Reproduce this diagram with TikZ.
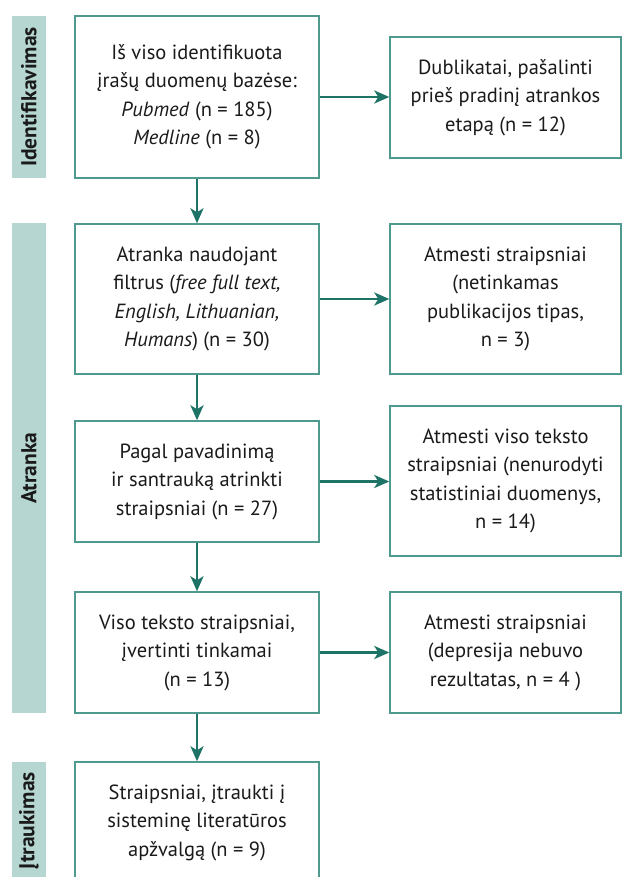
\documentclass[tikz,border=0pt]{standalone}
\usepackage{fontspec}
\setmainfont{PT Sans}
\usetikzlibrary{arrows.meta}
\definecolor{boxline}{HTML}{4E9A8E}
\definecolor{arrowc}{HTML}{1D7466}
\definecolor{barfill}{HTML}{B6D7D1}
\definecolor{txt}{HTML}{1A1A1A}
\tikzset{
  leftbox/.style={draw=boxline, line width=1.4pt, minimum width=244pt, align=center, inner sep=0pt,
    font=\fontsize{20.5}{28.5}\selectfont, text=txt},
  rightbox/.style={draw=boxline, line width=1.4pt, minimum width=231pt, align=center, inner sep=0pt,
    font=\fontsize{20.5}{28.5}\selectfont, text=txt},
  bar/.style={fill=barfill, draw=none},
  barlabel/.style={rotate=90, font=\fontsize{21.5}{24}\selectfont\bfseries, text=txt, inner sep=0pt},
  conn/.style={draw=arrowc, line width=2.6pt, -{Stealth[length=15pt,width=13pt,inset=4pt]}},
}
\begin{document}
\begin{tikzpicture}[x=1pt,y=-1pt]
\useasboundingbox (0,0) rectangle (622,877);
\clip (0,0) rectangle (622,877);
% side bars
\fill[bar] (12,16) rectangle (46,178);
\fill[bar] (12,223) rectangle (46,713);
\fill[bar] (12,762) rectangle (46,900);
\node[barlabel] (l1) at (29,97) {Identifikavimas};
\node[barlabel] (l2) at (29,468) {Atranka};
\node[barlabel, anchor=east] (l3) at (29,772) {Įtraukimas};
% left boxes
\node[leftbox, minimum height=162pt] (b1) at (197,97) {Iš viso identifikuota\\įrašų duomenų bazėse:\\\textit{Pubmed} (n = 185)\\\textit{Medline} (n = 8)};
\node[leftbox, minimum height=150pt] (b2) at (197,299) {Atranka naudojant\\filtrus (\textit{free full text,}\\\textit{English, Lithuanian,}\\\textit{Humans}) (n = 30)};
\node[leftbox, minimum height=121pt] (b3) at (197,481.5) {Pagal pavadinimą\\ir santrauką atrinkti\\straipsniai (n = 27)};
\node[leftbox, minimum height=121pt] (b4) at (197,652.5) {Viso teksto straipsniai,\\įvertinti tinkamai\\(n = 13)};
\node[leftbox, minimum height=121pt] (b5) at (197,822.5) {Straipsniai, įtraukti į\\sisteminę literatūros\\apžvalgą (n = 9)};
% right boxes
\node[rightbox, minimum height=121pt] (r1) at (505.5,97.5) {Dublikatai, pašalinti\\prieš pradinį atrankos\\etapą (n = 12)};
\node[rightbox, minimum height=150pt] (r2) at (505.5,299) {Atmesti straipsniai\\(netinkamas\\publikacijos tipas,\\n = 3)};
\node[rightbox, minimum height=150pt] (r3) at (505.5,481) {Atmesti viso teksto\\straipsniai (nenurodyti\\statistiniai duomenys,\\n = 14)};
\node[rightbox, minimum height=121pt] (r4) at (505.5,652.5) {Atmesti straipsniai\\(depresija nebuvo\\rezultatas, n = 4 )};
% connectors
\draw[conn] (b1) -- (b2);
\draw[conn] (b2) -- (b3);
\draw[conn] (b3) -- (b4);
\draw[conn] (b4) -- (b5);
\draw[conn] (b1.east) -- (r1.west |- b1.east);
\draw[conn] (b2.east) -- (r2.west |- b2.east);
\draw[conn] (b3.east) -- (r3.west |- b3.east);
\draw[conn] (b4.east) -- (r4.west |- b4.east);
\end{tikzpicture}
\end{document}
